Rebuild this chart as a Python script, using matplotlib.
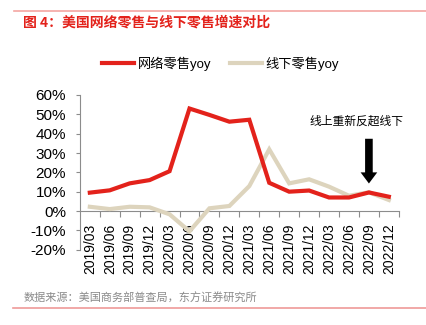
import matplotlib
matplotlib.use("Agg")
import matplotlib.pyplot as plt
from matplotlib.lines import Line2D
from matplotlib.ticker import FuncFormatter, MultipleLocator

plt.rcParams["font.family"] = ["Liberation Sans", "Noto Sans CJK SC"]

quarters = [
    "2019/03", "2019/06", "2019/09", "2019/12",
    "2020/03", "2020/06", "2020/09", "2020/12",
    "2021/03", "2021/06", "2021/09", "2021/12",
    "2022/03", "2022/06", "2022/09", "2022/12",
]
online_yoy = [9.5, 10.7, 14.3, 16.0, 20.6, 53.0, 49.7, 46.2,
              47.2, 14.6, 10.0, 10.6, 7.0, 7.0, 9.6, 7.4]
offline_yoy = [2.2, 1.0, 2.2, 1.9, -1.7, -10.5, 1.4, 2.6,
               12.9, 31.9, 14.3, 16.4, 12.6, 7.9, 9.7, 5.7]

RED = "#e3221b"
BEIGE = "#ddd4bd"
AXIS_GREY = "#8c8c8c"

fig = plt.figure(figsize=(4.27, 3.25), dpi=100)
ax = fig.add_axes([0.187, 0.2317, 0.747, 0.476])

x = list(range(len(quarters)))
ax.plot(x, offline_yoy, color=BEIGE, linewidth=3.0, solid_joinstyle="miter", zorder=3)
ax.plot(x, online_yoy, color=RED, linewidth=3.0, solid_joinstyle="miter", zorder=4)

ax.set_xlim(-0.5, len(quarters) - 0.5)
ax.set_ylim(-20, 60)

for side in ("top", "right"):
    ax.spines[side].set_visible(False)
ax.spines["bottom"].set_position(("data", 0))
ax.spines["bottom"].set_color(AXIS_GREY)
ax.spines["left"].set_color(AXIS_GREY)
ax.spines["bottom"].set_linewidth(0.8)
ax.spines["left"].set_linewidth(0.8)

ax.yaxis.set_major_locator(MultipleLocator(10))
ax.yaxis.set_major_formatter(FuncFormatter(lambda v, _: f"{v:.0f}%"))
ax.tick_params(axis="y", direction="out", length=3, width=0.8, color=AXIS_GREY,
               labelsize=11, pad=7)

# category labels at points, tick marks at the boundaries between quarters
ax.set_xticks(x)
ax.set_xticklabels(quarters, rotation=90, fontsize=10)
ax.set_xticks([i + 0.5 for i in x], minor=True)
ax.tick_params(axis="x", which="major", length=0, pad=9)
ax.tick_params(axis="x", which="minor", direction="out", length=4, width=0.8,
               color=AXIS_GREY)

# arrow marking where online growth overtakes offline again
ax.annotate("", xy=(14, 12.8), xytext=(14, 38.8),
            arrowprops=dict(arrowstyle="simple,head_width=1.2,head_length=0.8,tail_width=0.55",
                            color="black", lw=0))
ax.text(13.4, 46.5, "线上重新反超线下", ha="center", va="center", fontsize=8.5,
        family=["Noto Sans CJK SC"])

handles = [
    Line2D([0], [0], color=RED, linewidth=3.0, label="网络零售yoy"),
    Line2D([0], [0], color=BEIGE, linewidth=3.0, label="线下零售yoy"),
]
fig.legend(handles=handles, loc="center", bbox_to_anchor=(0.517, 0.805), ncol=2,
           frameon=False, fontsize=9.5, handlelength=2.4, handletextpad=0.3,
           columnspacing=1.4)

fig.add_artist(Line2D([0.033, 1.0], [0.966, 0.966], color="#f4a6a2", linewidth=1.2))
fig.text(0.055, 0.932, "图 4：美国网络零售与线下零售增速对比", color=RED, fontsize=10,
         fontweight="bold", va="center", family=["Noto Sans CJK SC"])

fig.text(0.055, 0.083, "数据来源：美国商务部普查局，东方证券研究所", color="#8a8a8a",
         fontsize=8, va="center", family=["Noto Sans CJK SC"])
fig.add_artist(Line2D([0.03, 1.0], [0.052, 0.052], color="#ef9a98", linewidth=1.2))

fig.savefig("out.png", dpi=100)
